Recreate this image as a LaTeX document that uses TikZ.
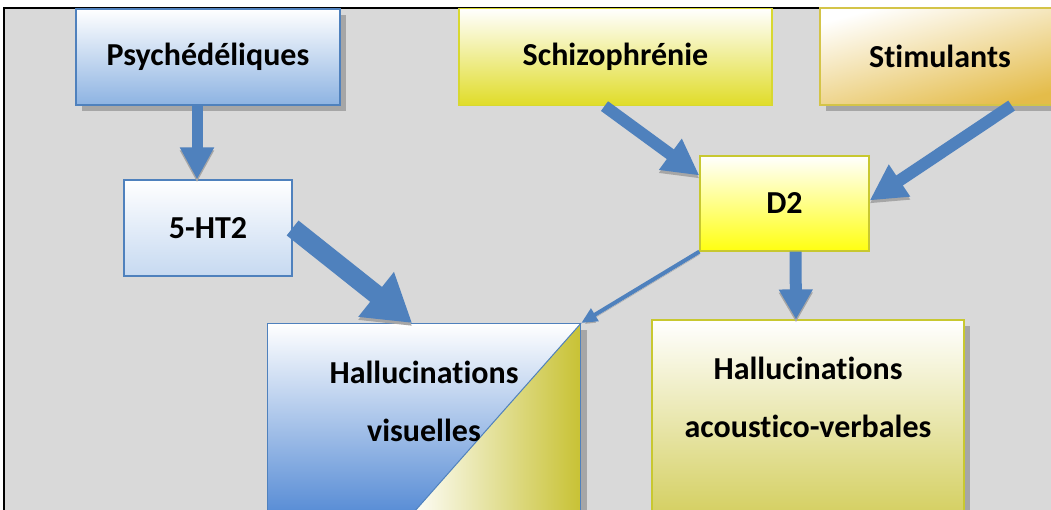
\documentclass[tikz,border=0pt]{standalone}
\usepackage{fontspec}
\setmainfont{Carlito}[Ligatures=NoCommon]
\usetikzlibrary{positioning,shadows,arrows.meta}

\definecolor{bggray}{HTML}{D9D9D9}
\definecolor{arrblue}{HTML}{4F81BD}
\definecolor{psyblue}{HTML}{8DB3E2}
\definecolor{htblue}{HTML}{C6D9F1}
\definecolor{schyellow}{HTML}{E0DC28}
\definecolor{schline}{HTML}{D8D830}
\definecolor{stimgold}{HTML}{E4BC4A}
\definecolor{stimline}{HTML}{D4C448}
\definecolor{dyellow}{HTML}{FFFF10}
\definecolor{dline}{HTML}{C8C830}
\definecolor{olive}{HTML}{C8C234}
\definecolor{hvblue}{HTML}{5A8ED6}

\tikzset{
  box/.style={rectangle, line width=1.2pt, inner sep=0pt,
    font=\fontsize{32}{36}\selectfont\bfseries},
  lbl/.style={align=center, inner sep=0pt,
    font=\fontsize{32}{58}\selectfont\bfseries},
  boxshadow/.style={drop shadow={shadow xshift=6pt, shadow yshift=-6pt,
    fill=gray!70, opacity=1}},
}

\begin{document}
\begin{tikzpicture}[x=1pt,y=-1pt]

        \useasboundingbox (0,0) rectangle (1051,510);
        \clip (0,0) rectangle (1051,510);
        \fill[bggray] (4,8) rectangle (1070,530);
        \draw[black, line width=1.5pt] (1070,8) -- (4,8) -- (4,530);

        \begin{scope}[every node/.style={box}]
          \node[draw=arrblue, top color=white, bottom color=psyblue,
            minimum width=264pt, minimum height=96pt, boxshadow]
            (psy) at (208,57) {Psychédéliques};
          \node[draw=arrblue, top color=white, bottom color=htblue,
            minimum width=168pt, minimum height=96pt]
            (ht) at (208,228) {5-HT2};
          \node[draw=schline, top color=white, bottom color=schyellow,
            minimum width=313pt, minimum height=97pt]
            (schizo) at (615.5,57) {Schizophrénie};
          \node[draw=stimline, top color=white, bottom color=stimgold,
            shading angle=15, minimum width=240pt, minimum height=97pt, boxshadow]
            (stim) at (940,56.5) {Stimulants};
          \node[draw=dline, top color=white, bottom color=dyellow,
            minimum width=169pt, minimum height=95pt]
            (d2) at (784.5,203.5) {D2};
          \node[draw=arrblue, anchor=north west, boxshadow,
            minimum width=313pt, minimum height=354pt,
            path picture={
              \begin{scope}
                \clip (path picture bounding box.north west)
                  -- (path picture bounding box.north east)
                  -- (path picture bounding box.south west) -- cycle;
                \shade[top color=white, bottom color=hvblue]
                  (path picture bounding box.north west)
                  rectangle ([yshift=167pt]path picture bounding box.south east);
              \end{scope}
              \begin{scope}
                \clip (path picture bounding box.south west)
                  -- (path picture bounding box.north east)
                  -- (path picture bounding box.south east) -- cycle;
                \shade[left color=white, right color=olive]
                  ([xshift=140pt]path picture bounding box.south west)
                  rectangle (path picture bounding box.north east);
              \end{scope}
            }]
            (hv) at (267,323) {};
          \node[draw=dline, top color=white, bottom color=olive,
            minimum width=312pt, minimum height=250pt, boxshadow]
            (hav) at (808,445) {};
        \end{scope}

        \draw[arrblue, line width=1pt] (hv.north east) -- (hv.south west);

        \node[lbl] (hvtext) at (424,401) {Hallucinations\\visuelles};
        \node[lbl] (havtext) at (808,397) {Hallucinations\\acoustico-verbales};

        \begin{scope}[every edge/.style={draw=arrblue,
            preaction={draw=gray!70, transform canvas={yshift=-3pt}}}]
          \path ([xshift=-11pt]psy.south) edge[line width=11pt,
            -{Triangle[width=32pt,length=32pt]}] ([xshift=-11pt]ht.north);
          \path (ht.east) edge[line width=19pt,
            -{Triangle[width=54pt,length=46pt]}] ([xshift=-12pt]hv.north);
          \path ([xshift=-11pt]schizo.south) edge[line width=12pt,
            -{Triangle[width=36pt,length=36pt]}] ([yshift=28pt]d2.west);
          \path ([xshift=-49pt]stim.south east) edge[line width=12pt,
            -{Triangle[width=36pt,length=36pt]}] ([yshift=3pt]d2.east);
          \path (d2.south west) edge[line width=4pt,
            -{Triangle[width=14pt,length=16pt]}] (hv.north east);
          \path ([xshift=11pt]d2.south) edge[line width=12pt,
            -{Triangle[width=32pt,length=30pt]}] ([xshift=-12pt]hav.north);
        \end{scope}

      \end{tikzpicture}
\end{document}
